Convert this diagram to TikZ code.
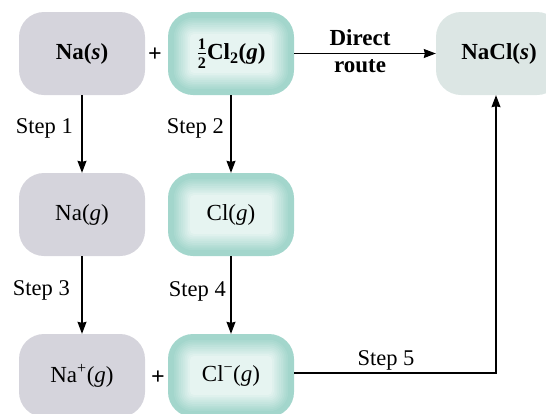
\documentclass[tikz,border=0pt]{standalone}
\usepackage{amsmath}
\usepackage{fontspec}
\setmainfont{Liberation Serif}
\usetikzlibrary{arrows.meta}
\definecolor{grayc}{RGB}{213,212,220}
\definecolor{tealc}{RGB}{163,214,204}
\definecolor{teall}{RGB}{230,244,241}
\definecolor{nacl}{RGB}{220,230,228}
\tikzset{
  box/.style={rectangle, rounded corners=25pt, minimum width=126pt, minimum height=83pt, inner sep=0pt, font=\fontsize{23}{26}\selectfont},
  graybox/.style={box, fill=grayc},
  naclbox/.style={box, fill=nacl},
  tealbox/.style={box, fill=tealc, path picture={
    \foreach \i in {1,...,10}{
      \pgfmathsetmacro\d{4+\i*1.8}
      \pgfmathsetmacro\r{max(25-\d,4)}
      \pgfmathsetmacro\p{\i*10}
      \fill[teall!\p!tealc, rounded corners=\r pt]
        ([shift={(\d pt,-\d pt)}]path picture bounding box.north west) rectangle
        ([shift={(-\d pt,\d pt)}]path picture bounding box.south east);
    }}},
  arr/.style={-{Stealth[length=12pt,width=9pt,inset=1pt]}, line width=1.1pt},
  lbl/.style={font=\fontsize{22.5}{26}\selectfont, inner sep=0pt},
  plus/.style={font=\bfseries\fontsize{24}{26}\selectfont, inner sep=0pt}
}
\begin{document}
\begin{tikzpicture}[x=1pt,y=-1pt]
\useasboundingbox (0,0) rectangle (546,413);
\begin{scope}
\clip (0,0) rectangle (546,413);
\node[graybox] (nas) at (82,53.5) {\textbf{Na(\textit{s})}};
\node[tealbox] (cl2) at (231,53.5) {\textbf{$\frac{\textbf{1}}{\textbf{2}}$Cl\textsubscript{2}(\textit{g})}};
\node[naclbox] (nacl) at (499,53.5) {\textbf{NaCl(\textit{s})}};
\node[graybox] (nag) at (82,214.5) {Na(\textit{g})};
\node[tealbox] (clg) at (231,214.5) {Cl(\textit{g})};
\node[graybox] (nap) at (82,375.5) {Na\textsuperscript{+}(\textit{g})};
\node[tealbox] (clm) at (231,375.5) {Cl\textsuperscript{−}(\textit{g})};
\end{scope}
\node[plus] (p1) at (155,55) {+};
\node[plus] (p2) at (158,378) {+};
\draw[arr] (nas.south) -- (nag.north);
\draw[arr] (cl2.south) -- (clg.north);
\draw[arr] (nag.south) -- (nap.north);
\draw[arr] (clg.south) -- (clm.north);
\draw[arr] (cl2.east) -- (nacl.west);
\coordinate (corner) at (496,373);
\draw[arr] (clm.east |- corner) -- (corner) -- (corner |- nacl.south);
\node[lbl, anchor=base east] (s1) at (73,133) {Step 1};
\node[lbl, anchor=base east] (s2) at (224,133) {Step 2};
\node[lbl, anchor=base east] (s3) at (70,295) {Step 3};
\node[lbl, anchor=base east] (s4) at (226,296) {Step 4};
\node[lbl, anchor=base] (s5) at (386,365) {Step 5};
\node[lbl, anchor=base, font=\bfseries\fontsize{23}{26}\selectfont] (d1) at (360,45) {Direct};
\node[lbl, anchor=base, font=\bfseries\fontsize{23}{26}\selectfont] (d2) at (360,72) {route};
\end{tikzpicture}
\end{document}
